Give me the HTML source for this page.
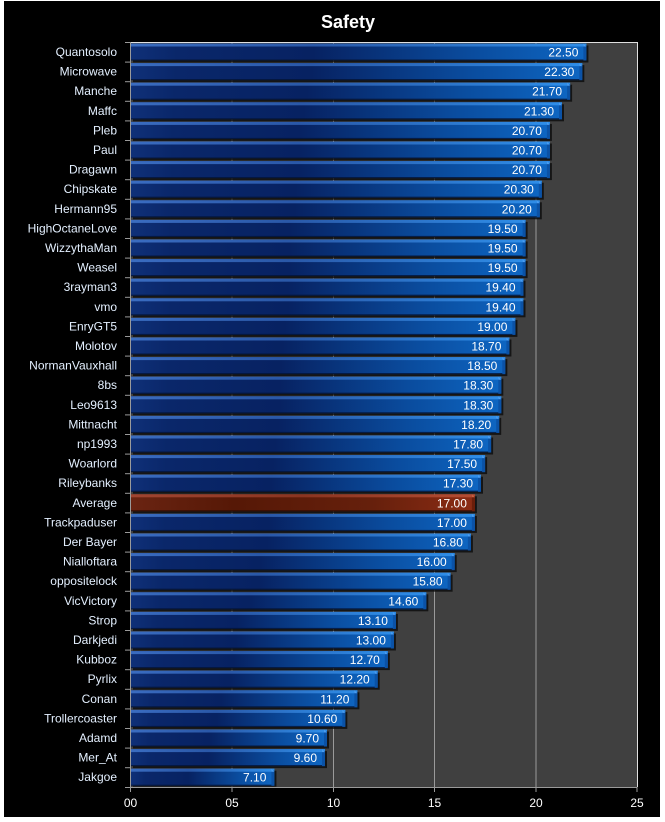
<!DOCTYPE html>
<html><head><meta charset="utf-8">
<style>
html,body{margin:0;padding:0;background:#ffffff;}
svg{display:block;}
text{font-family:"Liberation Sans",sans-serif;}
.s{fill:#0a0a0a;opacity:0.8;}
.b{fill:url(#gb);}
.h{fill:url(#gh);}
.c{fill:#0b52a6;}
.t{fill:#4a9cf0;}
.d{fill:#041538;opacity:0.9;}
.r .b{fill:url(#gr);}
.r .h{fill:url(#ghr);}
.r .c{fill:#6a1e0a;}
.r .t{fill:#c86040;}
.r .d{fill:#2a0a02;}
.v{font-size:12px;fill:#ffffff;text-anchor:end;}
</style></head>
<body>
<svg width="665" height="822" viewBox="0 0 665 822" xmlns="http://www.w3.org/2000/svg">
<defs>
<linearGradient id="gb" x1="0" y1="0" x2="1" y2="0">
<stop offset="0" stop-color="#0f3078"/>
<stop offset="0.1" stop-color="#0a276a"/>
<stop offset="0.4" stop-color="#072262"/>
<stop offset="0.75" stop-color="#0a4c9e"/>
<stop offset="1" stop-color="#0e66c2"/>
</linearGradient>
<linearGradient id="gh" x1="0" y1="0" x2="1" y2="0">
<stop offset="0" stop-color="#3a6cc0"/>
<stop offset="0.4" stop-color="#2a58a8"/>
<stop offset="1" stop-color="#2f8ee8"/>
</linearGradient>
<linearGradient id="gr" x1="0" y1="0" x2="1" y2="0">
<stop offset="0" stop-color="#6a2412"/>
<stop offset="0.3" stop-color="#561806"/>
<stop offset="0.7" stop-color="#66200c"/>
<stop offset="1" stop-color="#8c2c14"/>
</linearGradient>
<linearGradient id="ghr" x1="0" y1="0" x2="1" y2="0">
<stop offset="0" stop-color="#a04430"/>
<stop offset="0.5" stop-color="#8a3420"/>
<stop offset="1" stop-color="#b44c32"/>
</linearGradient>
</defs>
<rect x="0" y="0" width="665" height="822" fill="#ffffff"/>
<rect x="4" y="1" width="656" height="816" fill="#000000"/>
<text x="348" y="28" font-size="18" font-weight="bold" fill="#ffffff" text-anchor="middle">Safety</text>
<rect x="130.5" y="42" width="506.5" height="745" fill="#404040"/>
<g stroke="#9a9a9a" stroke-width="1">
<line x1="232" y1="42" x2="232" y2="787"/>
<line x1="333.5" y1="42" x2="333.5" y2="787"/>
<line x1="434.5" y1="42" x2="434.5" y2="787"/>
<line x1="536" y1="42" x2="536" y2="787"/>
</g>
<line x1="130.5" y1="42.5" x2="637.5" y2="42.5" stroke="#e0e0e0" stroke-width="1"/>
<line x1="637.5" y1="42" x2="637.5" y2="787" stroke="#e0e0e0" stroke-width="1"/>

<g transform="translate(0,43.5)"><rect class="s" x="133" y="2" width="455.4" height="17"/><rect class="b" x="131" y="0" width="455.4" height="17"/><rect class="h" x="131" y="0" width="455.4" height="3"/><rect class="d" x="131" y="16" width="455.4" height="1"/><rect class="c" x="583.4" y="2" width="3" height="15"/><polygon class="t" points="583.4,0 586.4,3 583.4,3"/><text class="v" x="578.4" y="13">22.50</text></g>
<g transform="translate(0,63.1)"><rect class="s" x="133" y="2" width="451.3" height="17"/><rect class="b" x="131" y="0" width="451.3" height="17"/><rect class="h" x="131" y="0" width="451.3" height="3"/><rect class="d" x="131" y="16" width="451.3" height="1"/><rect class="c" x="579.3" y="2" width="3" height="15"/><polygon class="t" points="579.3,0 582.3,3 579.3,3"/><text class="v" x="574.3" y="13">22.30</text></g>
<g transform="translate(0,82.7)"><rect class="s" x="133" y="2" width="439.1" height="17"/><rect class="b" x="131" y="0" width="439.1" height="17"/><rect class="h" x="131" y="0" width="439.1" height="3"/><rect class="d" x="131" y="16" width="439.1" height="1"/><rect class="c" x="567.1" y="2" width="3" height="15"/><polygon class="t" points="567.1,0 570.1,3 567.1,3"/><text class="v" x="562.1" y="13">21.70</text></g>
<g transform="translate(0,102.3)"><rect class="s" x="133" y="2" width="431" height="17"/><rect class="b" x="131" y="0" width="431" height="17"/><rect class="h" x="131" y="0" width="431" height="3"/><rect class="d" x="131" y="16" width="431" height="1"/><rect class="c" x="559" y="2" width="3" height="15"/><polygon class="t" points="559,0 562,3 559,3"/><text class="v" x="554" y="13">21.30</text></g>
<g transform="translate(0,121.9)"><rect class="s" x="133" y="2" width="418.9" height="17"/><rect class="b" x="131" y="0" width="418.9" height="17"/><rect class="h" x="131" y="0" width="418.9" height="3"/><rect class="d" x="131" y="16" width="418.9" height="1"/><rect class="c" x="546.9" y="2" width="3" height="15"/><polygon class="t" points="546.9,0 549.9,3 546.9,3"/><text class="v" x="541.9" y="13">20.70</text></g>
<g transform="translate(0,141.5)"><rect class="s" x="133" y="2" width="418.9" height="17"/><rect class="b" x="131" y="0" width="418.9" height="17"/><rect class="h" x="131" y="0" width="418.9" height="3"/><rect class="d" x="131" y="16" width="418.9" height="1"/><rect class="c" x="546.9" y="2" width="3" height="15"/><polygon class="t" points="546.9,0 549.9,3 546.9,3"/><text class="v" x="541.9" y="13">20.70</text></g>
<g transform="translate(0,161.1)"><rect class="s" x="133" y="2" width="418.9" height="17"/><rect class="b" x="131" y="0" width="418.9" height="17"/><rect class="h" x="131" y="0" width="418.9" height="3"/><rect class="d" x="131" y="16" width="418.9" height="1"/><rect class="c" x="546.9" y="2" width="3" height="15"/><polygon class="t" points="546.9,0 549.9,3 546.9,3"/><text class="v" x="541.9" y="13">20.70</text></g>
<g transform="translate(0,180.7)"><rect class="s" x="133" y="2" width="410.8" height="17"/><rect class="b" x="131" y="0" width="410.8" height="17"/><rect class="h" x="131" y="0" width="410.8" height="3"/><rect class="d" x="131" y="16" width="410.8" height="1"/><rect class="c" x="538.8" y="2" width="3" height="15"/><polygon class="t" points="538.8,0 541.8,3 538.8,3"/><text class="v" x="533.8" y="13">20.30</text></g>
<g transform="translate(0,200.3)"><rect class="s" x="133" y="2" width="408.8" height="17"/><rect class="b" x="131" y="0" width="408.8" height="17"/><rect class="h" x="131" y="0" width="408.8" height="3"/><rect class="d" x="131" y="16" width="408.8" height="1"/><rect class="c" x="536.8" y="2" width="3" height="15"/><polygon class="t" points="536.8,0 539.8,3 536.8,3"/><text class="v" x="531.8" y="13">20.20</text></g>
<g transform="translate(0,219.9)"><rect class="s" x="133" y="2" width="394.6" height="17"/><rect class="b" x="131" y="0" width="394.6" height="17"/><rect class="h" x="131" y="0" width="394.6" height="3"/><rect class="d" x="131" y="16" width="394.6" height="1"/><rect class="c" x="522.6" y="2" width="3" height="15"/><polygon class="t" points="522.6,0 525.6,3 522.6,3"/><text class="v" x="517.6" y="13">19.50</text></g>
<g transform="translate(0,239.5)"><rect class="s" x="133" y="2" width="394.6" height="17"/><rect class="b" x="131" y="0" width="394.6" height="17"/><rect class="h" x="131" y="0" width="394.6" height="3"/><rect class="d" x="131" y="16" width="394.6" height="1"/><rect class="c" x="522.6" y="2" width="3" height="15"/><polygon class="t" points="522.6,0 525.6,3 522.6,3"/><text class="v" x="517.6" y="13">19.50</text></g>
<g transform="translate(0,259.1)"><rect class="s" x="133" y="2" width="394.6" height="17"/><rect class="b" x="131" y="0" width="394.6" height="17"/><rect class="h" x="131" y="0" width="394.6" height="3"/><rect class="d" x="131" y="16" width="394.6" height="1"/><rect class="c" x="522.6" y="2" width="3" height="15"/><polygon class="t" points="522.6,0 525.6,3 522.6,3"/><text class="v" x="517.6" y="13">19.50</text></g>
<g transform="translate(0,278.7)"><rect class="s" x="133" y="2" width="392.5" height="17"/><rect class="b" x="131" y="0" width="392.5" height="17"/><rect class="h" x="131" y="0" width="392.5" height="3"/><rect class="d" x="131" y="16" width="392.5" height="1"/><rect class="c" x="520.5" y="2" width="3" height="15"/><polygon class="t" points="520.5,0 523.5,3 520.5,3"/><text class="v" x="515.5" y="13">19.40</text></g>
<g transform="translate(0,298.3)"><rect class="s" x="133" y="2" width="392.5" height="17"/><rect class="b" x="131" y="0" width="392.5" height="17"/><rect class="h" x="131" y="0" width="392.5" height="3"/><rect class="d" x="131" y="16" width="392.5" height="1"/><rect class="c" x="520.5" y="2" width="3" height="15"/><polygon class="t" points="520.5,0 523.5,3 520.5,3"/><text class="v" x="515.5" y="13">19.40</text></g>
<g transform="translate(0,317.9)"><rect class="s" x="133" y="2" width="384.4" height="17"/><rect class="b" x="131" y="0" width="384.4" height="17"/><rect class="h" x="131" y="0" width="384.4" height="3"/><rect class="d" x="131" y="16" width="384.4" height="1"/><rect class="c" x="512.4" y="2" width="3" height="15"/><polygon class="t" points="512.4,0 515.4,3 512.4,3"/><text class="v" x="507.4" y="13">19.00</text></g>
<g transform="translate(0,337.5)"><rect class="s" x="133" y="2" width="378.4" height="17"/><rect class="b" x="131" y="0" width="378.4" height="17"/><rect class="h" x="131" y="0" width="378.4" height="3"/><rect class="d" x="131" y="16" width="378.4" height="1"/><rect class="c" x="506.4" y="2" width="3" height="15"/><polygon class="t" points="506.4,0 509.4,3 506.4,3"/><text class="v" x="501.4" y="13">18.70</text></g>
<g transform="translate(0,357.1)"><rect class="s" x="133" y="2" width="374.3" height="17"/><rect class="b" x="131" y="0" width="374.3" height="17"/><rect class="h" x="131" y="0" width="374.3" height="3"/><rect class="d" x="131" y="16" width="374.3" height="1"/><rect class="c" x="502.3" y="2" width="3" height="15"/><polygon class="t" points="502.3,0 505.3,3 502.3,3"/><text class="v" x="497.3" y="13">18.50</text></g>
<g transform="translate(0,376.7)"><rect class="s" x="133" y="2" width="370.3" height="17"/><rect class="b" x="131" y="0" width="370.3" height="17"/><rect class="h" x="131" y="0" width="370.3" height="3"/><rect class="d" x="131" y="16" width="370.3" height="1"/><rect class="c" x="498.3" y="2" width="3" height="15"/><polygon class="t" points="498.3,0 501.3,3 498.3,3"/><text class="v" x="493.3" y="13">18.30</text></g>
<g transform="translate(0,396.3)"><rect class="s" x="133" y="2" width="370.3" height="17"/><rect class="b" x="131" y="0" width="370.3" height="17"/><rect class="h" x="131" y="0" width="370.3" height="3"/><rect class="d" x="131" y="16" width="370.3" height="1"/><rect class="c" x="498.3" y="2" width="3" height="15"/><polygon class="t" points="498.3,0 501.3,3 498.3,3"/><text class="v" x="493.3" y="13">18.30</text></g>
<g transform="translate(0,415.9)"><rect class="s" x="133" y="2" width="368.2" height="17"/><rect class="b" x="131" y="0" width="368.2" height="17"/><rect class="h" x="131" y="0" width="368.2" height="3"/><rect class="d" x="131" y="16" width="368.2" height="1"/><rect class="c" x="496.2" y="2" width="3" height="15"/><polygon class="t" points="496.2,0 499.2,3 496.2,3"/><text class="v" x="491.2" y="13">18.20</text></g>
<g transform="translate(0,435.5)"><rect class="s" x="133" y="2" width="360.1" height="17"/><rect class="b" x="131" y="0" width="360.1" height="17"/><rect class="h" x="131" y="0" width="360.1" height="3"/><rect class="d" x="131" y="16" width="360.1" height="1"/><rect class="c" x="488.1" y="2" width="3" height="15"/><polygon class="t" points="488.1,0 491.1,3 488.1,3"/><text class="v" x="483.1" y="13">17.80</text></g>
<g transform="translate(0,455.1)"><rect class="s" x="133" y="2" width="354.1" height="17"/><rect class="b" x="131" y="0" width="354.1" height="17"/><rect class="h" x="131" y="0" width="354.1" height="3"/><rect class="d" x="131" y="16" width="354.1" height="1"/><rect class="c" x="482.1" y="2" width="3" height="15"/><polygon class="t" points="482.1,0 485.1,3 482.1,3"/><text class="v" x="477.1" y="13">17.50</text></g>
<g transform="translate(0,474.7)"><rect class="s" x="133" y="2" width="350" height="17"/><rect class="b" x="131" y="0" width="350" height="17"/><rect class="h" x="131" y="0" width="350" height="3"/><rect class="d" x="131" y="16" width="350" height="1"/><rect class="c" x="478" y="2" width="3" height="15"/><polygon class="t" points="478,0 481,3 478,3"/><text class="v" x="473" y="13">17.30</text></g>
<g class="r" transform="translate(0,494.3)"><rect class="s" x="133" y="2" width="343.9" height="17"/><rect class="b" x="131" y="0" width="343.9" height="17"/><rect class="h" x="131" y="0" width="343.9" height="3"/><rect class="d" x="131" y="16" width="343.9" height="1"/><rect class="c" x="471.9" y="2" width="3" height="15"/><polygon class="t" points="471.9,0 474.9,3 471.9,3"/><text class="v" x="466.9" y="13">17.00</text></g>
<g transform="translate(0,513.9)"><rect class="s" x="133" y="2" width="343.9" height="17"/><rect class="b" x="131" y="0" width="343.9" height="17"/><rect class="h" x="131" y="0" width="343.9" height="3"/><rect class="d" x="131" y="16" width="343.9" height="1"/><rect class="c" x="471.9" y="2" width="3" height="15"/><polygon class="t" points="471.9,0 474.9,3 471.9,3"/><text class="v" x="466.9" y="13">17.00</text></g>
<g transform="translate(0,533.5)"><rect class="s" x="133" y="2" width="339.9" height="17"/><rect class="b" x="131" y="0" width="339.9" height="17"/><rect class="h" x="131" y="0" width="339.9" height="3"/><rect class="d" x="131" y="16" width="339.9" height="1"/><rect class="c" x="467.9" y="2" width="3" height="15"/><polygon class="t" points="467.9,0 470.9,3 467.9,3"/><text class="v" x="462.9" y="13">16.80</text></g>
<g transform="translate(0,553.1)"><rect class="s" x="133" y="2" width="323.7" height="17"/><rect class="b" x="131" y="0" width="323.7" height="17"/><rect class="h" x="131" y="0" width="323.7" height="3"/><rect class="d" x="131" y="16" width="323.7" height="1"/><rect class="c" x="451.7" y="2" width="3" height="15"/><polygon class="t" points="451.7,0 454.7,3 451.7,3"/><text class="v" x="446.7" y="13">16.00</text></g>
<g transform="translate(0,572.7)"><rect class="s" x="133" y="2" width="319.6" height="17"/><rect class="b" x="131" y="0" width="319.6" height="17"/><rect class="h" x="131" y="0" width="319.6" height="3"/><rect class="d" x="131" y="16" width="319.6" height="1"/><rect class="c" x="447.6" y="2" width="3" height="15"/><polygon class="t" points="447.6,0 450.6,3 447.6,3"/><text class="v" x="442.6" y="13">15.80</text></g>
<g transform="translate(0,592.3)"><rect class="s" x="133" y="2" width="295.3" height="17"/><rect class="b" x="131" y="0" width="295.3" height="17"/><rect class="h" x="131" y="0" width="295.3" height="3"/><rect class="d" x="131" y="16" width="295.3" height="1"/><rect class="c" x="423.3" y="2" width="3" height="15"/><polygon class="t" points="423.3,0 426.3,3 423.3,3"/><text class="v" x="418.3" y="13">14.60</text></g>
<g transform="translate(0,611.9)"><rect class="s" x="133" y="2" width="264.9" height="17"/><rect class="b" x="131" y="0" width="264.9" height="17"/><rect class="h" x="131" y="0" width="264.9" height="3"/><rect class="d" x="131" y="16" width="264.9" height="1"/><rect class="c" x="392.9" y="2" width="3" height="15"/><polygon class="t" points="392.9,0 395.9,3 392.9,3"/><text class="v" x="387.9" y="13">13.10</text></g>
<g transform="translate(0,631.5)"><rect class="s" x="133" y="2" width="262.9" height="17"/><rect class="b" x="131" y="0" width="262.9" height="17"/><rect class="h" x="131" y="0" width="262.9" height="3"/><rect class="d" x="131" y="16" width="262.9" height="1"/><rect class="c" x="390.9" y="2" width="3" height="15"/><polygon class="t" points="390.9,0 393.9,3 390.9,3"/><text class="v" x="385.9" y="13">13.00</text></g>
<g transform="translate(0,651.1)"><rect class="s" x="133" y="2" width="256.8" height="17"/><rect class="b" x="131" y="0" width="256.8" height="17"/><rect class="h" x="131" y="0" width="256.8" height="3"/><rect class="d" x="131" y="16" width="256.8" height="1"/><rect class="c" x="384.8" y="2" width="3" height="15"/><polygon class="t" points="384.8,0 387.8,3 384.8,3"/><text class="v" x="379.8" y="13">12.70</text></g>
<g transform="translate(0,670.7)"><rect class="s" x="133" y="2" width="246.7" height="17"/><rect class="b" x="131" y="0" width="246.7" height="17"/><rect class="h" x="131" y="0" width="246.7" height="3"/><rect class="d" x="131" y="16" width="246.7" height="1"/><rect class="c" x="374.7" y="2" width="3" height="15"/><polygon class="t" points="374.7,0 377.7,3 374.7,3"/><text class="v" x="369.7" y="13">12.20</text></g>
<g transform="translate(0,690.3)"><rect class="s" x="133" y="2" width="226.4" height="17"/><rect class="b" x="131" y="0" width="226.4" height="17"/><rect class="h" x="131" y="0" width="226.4" height="3"/><rect class="d" x="131" y="16" width="226.4" height="1"/><rect class="c" x="354.4" y="2" width="3" height="15"/><polygon class="t" points="354.4,0 357.4,3 354.4,3"/><text class="v" x="349.4" y="13">11.20</text></g>
<g transform="translate(0,709.9)"><rect class="s" x="133" y="2" width="214.3" height="17"/><rect class="b" x="131" y="0" width="214.3" height="17"/><rect class="h" x="131" y="0" width="214.3" height="3"/><rect class="d" x="131" y="16" width="214.3" height="1"/><rect class="c" x="342.3" y="2" width="3" height="15"/><polygon class="t" points="342.3,0 345.3,3 342.3,3"/><text class="v" x="337.3" y="13">10.60</text></g>
<g transform="translate(0,729.5)"><rect class="s" x="133" y="2" width="196" height="17"/><rect class="b" x="131" y="0" width="196" height="17"/><rect class="h" x="131" y="0" width="196" height="3"/><rect class="d" x="131" y="16" width="196" height="1"/><rect class="c" x="324" y="2" width="3" height="15"/><polygon class="t" points="324,0 327,3 324,3"/><text class="v" x="319" y="13">9.70</text></g>
<g transform="translate(0,749.1)"><rect class="s" x="133" y="2" width="194" height="17"/><rect class="b" x="131" y="0" width="194" height="17"/><rect class="h" x="131" y="0" width="194" height="3"/><rect class="d" x="131" y="16" width="194" height="1"/><rect class="c" x="322" y="2" width="3" height="15"/><polygon class="t" points="322,0 325,3 322,3"/><text class="v" x="317" y="13">9.60</text></g>
<g transform="translate(0,768.7)"><rect class="s" x="133" y="2" width="143.4" height="16"/><rect class="b" x="131" y="0" width="143.4" height="17"/><rect class="h" x="131" y="0" width="143.4" height="3"/><rect class="d" x="131" y="16" width="143.4" height="1"/><rect class="c" x="271.4" y="2" width="3" height="15"/><polygon class="t" points="271.4,0 274.4,3 271.4,3"/><text class="v" x="266.4" y="13">7.10</text></g>

<line x1="130.5" y1="42" x2="130.5" y2="792" stroke="#9a9a9a" stroke-width="1"/>
<line x1="125" y1="787.5" x2="637.5" y2="787.5" stroke="#9a9a9a" stroke-width="1"/>
<g stroke="#9a9a9a" stroke-width="1">
<line x1="125" y1="42.5" x2="130.5" y2="42.5"/>
<line x1="125" y1="62.1" x2="130.5" y2="62.1"/>
<line x1="125" y1="81.7" x2="130.5" y2="81.7"/>
<line x1="125" y1="101.3" x2="130.5" y2="101.3"/>
<line x1="125" y1="120.9" x2="130.5" y2="120.9"/>
<line x1="125" y1="140.5" x2="130.5" y2="140.5"/>
<line x1="125" y1="160.1" x2="130.5" y2="160.1"/>
<line x1="125" y1="179.7" x2="130.5" y2="179.7"/>
<line x1="125" y1="199.3" x2="130.5" y2="199.3"/>
<line x1="125" y1="218.9" x2="130.5" y2="218.9"/>
<line x1="125" y1="238.5" x2="130.5" y2="238.5"/>
<line x1="125" y1="258.1" x2="130.5" y2="258.1"/>
<line x1="125" y1="277.7" x2="130.5" y2="277.7"/>
<line x1="125" y1="297.3" x2="130.5" y2="297.3"/>
<line x1="125" y1="316.9" x2="130.5" y2="316.9"/>
<line x1="125" y1="336.5" x2="130.5" y2="336.5"/>
<line x1="125" y1="356.1" x2="130.5" y2="356.1"/>
<line x1="125" y1="375.7" x2="130.5" y2="375.7"/>
<line x1="125" y1="395.3" x2="130.5" y2="395.3"/>
<line x1="125" y1="414.9" x2="130.5" y2="414.9"/>
<line x1="125" y1="434.5" x2="130.5" y2="434.5"/>
<line x1="125" y1="454.1" x2="130.5" y2="454.1"/>
<line x1="125" y1="473.7" x2="130.5" y2="473.7"/>
<line x1="125" y1="493.3" x2="130.5" y2="493.3"/>
<line x1="125" y1="512.9" x2="130.5" y2="512.9"/>
<line x1="125" y1="532.5" x2="130.5" y2="532.5"/>
<line x1="125" y1="552.1" x2="130.5" y2="552.1"/>
<line x1="125" y1="571.7" x2="130.5" y2="571.7"/>
<line x1="125" y1="591.3" x2="130.5" y2="591.3"/>
<line x1="125" y1="610.9" x2="130.5" y2="610.9"/>
<line x1="125" y1="630.5" x2="130.5" y2="630.5"/>
<line x1="125" y1="650.1" x2="130.5" y2="650.1"/>
<line x1="125" y1="669.7" x2="130.5" y2="669.7"/>
<line x1="125" y1="689.3" x2="130.5" y2="689.3"/>
<line x1="125" y1="708.9" x2="130.5" y2="708.9"/>
<line x1="125" y1="728.5" x2="130.5" y2="728.5"/>
<line x1="125" y1="748.1" x2="130.5" y2="748.1"/>
<line x1="125" y1="767.7" x2="130.5" y2="767.7"/>
<line x1="232" y1="787" x2="232" y2="792"/>
<line x1="333.5" y1="787" x2="333.5" y2="792"/>
<line x1="434.5" y1="787" x2="434.5" y2="792"/>
<line x1="536" y1="787" x2="536" y2="792"/>
<line x1="637" y1="787" x2="637" y2="792"/>
</g>
<g font-size="12" fill="#ffffff" text-anchor="middle">
<text x="130.5" y="807">00</text>
<text x="232" y="807">05</text>
<text x="333.5" y="807">10</text>
<text x="434.5" y="807">15</text>
<text x="536" y="807">20</text>
<text x="637" y="807">25</text>
</g>
<g font-size="12" fill="#e4f0ff" text-anchor="end">
<text x="117" y="56">Quantosolo</text>
<text x="117" y="75.6">Microwave</text>
<text x="117" y="95.2">Manche</text>
<text x="117" y="114.8">Maffc</text>
<text x="117" y="134.4">Pleb</text>
<text x="117" y="154">Paul</text>
<text x="117" y="173.6">Dragawn</text>
<text x="117" y="193.2">Chipskate</text>
<text x="117" y="212.8">Hermann95</text>
<text x="117" y="232.4">HighOctaneLove</text>
<text x="117" y="252">WizzythaMan</text>
<text x="117" y="271.6">Weasel</text>
<text x="117" y="291.2">3rayman3</text>
<text x="117" y="310.8">vmo</text>
<text x="117" y="330.4">EnryGT5</text>
<text x="117" y="350">Molotov</text>
<text x="117" y="369.6">NormanVauxhall</text>
<text x="117" y="389.2">8bs</text>
<text x="117" y="408.8">Leo9613</text>
<text x="117" y="428.4">Mittnacht</text>
<text x="117" y="448">np1993</text>
<text x="117" y="467.6">Woarlord</text>
<text x="117" y="487.2">Rileybanks</text>
<text x="117" y="506.8">Average</text>
<text x="117" y="526.4">Trackpaduser</text>
<text x="117" y="546">Der Bayer</text>
<text x="117" y="565.6">Nialloftara</text>
<text x="117" y="585.2">oppositelock</text>
<text x="117" y="604.8">VicVictory</text>
<text x="117" y="624.4">Strop</text>
<text x="117" y="644">Darkjedi</text>
<text x="117" y="663.6">Kubboz</text>
<text x="117" y="683.2">Pyrlix</text>
<text x="117" y="702.8">Conan</text>
<text x="117" y="722.4">Trollercoaster</text>
<text x="117" y="742">Adamd</text>
<text x="117" y="761.6">Mer_At</text>
<text x="117" y="781.2">Jakgoe</text>
</g>
</svg>
</body></html>
